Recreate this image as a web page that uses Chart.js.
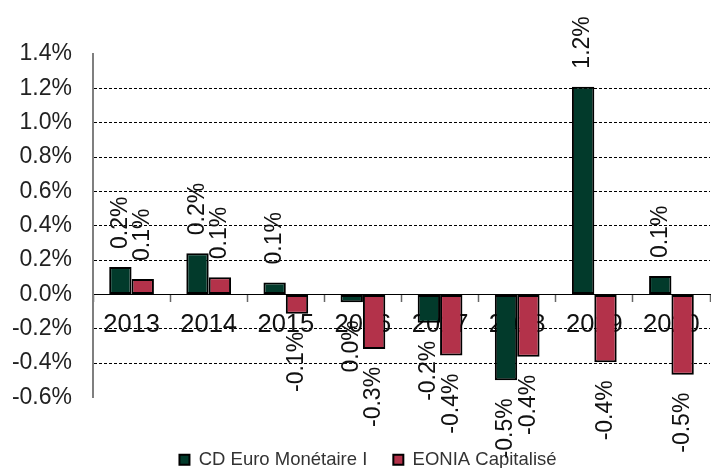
<!DOCTYPE html>
<html>
<head>
<meta charset="utf-8">
<script src="https://cdn.jsdelivr.net/npm/chart.js@4.4.1/dist/chart.umd.min.js"></script>
<style>
  html, body { margin: 0; padding: 0; background: #fff; }
  #wrap { position: relative; width: 711px; height: 468px; }
</style>
</head>
<body>
<div id="wrap"><canvas id="chart"></canvas></div>
<script>
const years = ['2013', '2014', '2015', '2016', '2017', '2018', '2019', '2020'];
const cdEuro = [0.16, 0.24, 0.07, -0.045, -0.165, -0.50, 1.21, 0.107];
const eonia = [0.09, 0.10, -0.113, -0.317, -0.356, -0.363, -0.395, -0.467];
const yTickValues = [-0.6, -0.4, -0.2, 0, 0.2, 0.4, 0.6, 0.8, 1.0, 1.2, 1.4];

const FONT = 'Arial, "Liberation Sans", sans-serif';

function fmtPct(v) {
  let s = v.toFixed(1);
  if (s === '-0.0') s = '0.0';
  return s + '%';
}

// etiquettes verticales au bout des barres
const barLabels = {
  id: 'barLabels',
  afterDatasetsDraw(chart) {
    const ctx = chart.ctx;
    ctx.save();
    ctx.font = '23px ' + FONT;
    ctx.fillStyle = '#111';
    ctx.textBaseline = 'middle';
    chart.data.datasets.forEach((ds, i) => {
      chart.getDatasetMeta(i).data.forEach((bar, j) => {
        const v = ds.data[j];
        ctx.save();
        ctx.translate(bar.x, v >= 0 ? bar.y - 18 : bar.y + 18);
        ctx.rotate(-Math.PI / 2);
        ctx.textAlign = v >= 0 ? 'left' : 'right';
        ctx.fillText(fmtPct(v), 0, 0);
        ctx.restore();
      });
    });
    ctx.restore();
  }
};

// décale la légende un peu à droite, comme dans l'original
const legendShift = {
  id: 'legendShift',
  afterLayout(chart) {
    if (!chart.legend) return;
    chart.legend.left += 13;
    chart.legend.right += 13;
  }
};

new Chart(document.getElementById('chart'), {
  type: 'bar',
  data: {
    labels: years,
    datasets: [
      { label: 'CD Euro Monétaire I', data: cdEuro, backgroundColor: '#023A2B', borderColor: '#000', borderWidth: 2, borderSkipped: false },
      { label: 'EONIA Capitalisé', data: eonia, backgroundColor: '#B3324A', borderColor: '#000', borderWidth: 2, borderSkipped: false },
    ],
  },
  options: {
    responsive: true,
    maintainAspectRatio: false,
    animation: false,
    layout: { padding: { top: 54, left: 0, right: 1, bottom: -11 } },
    datasets: { bar: { barPercentage: 1, categoryPercentage: 0.58 } },
    plugins: {
      tooltip: { enabled: false },
      legend: {
        position: 'bottom',
        title: { display: true, text: ' ', font: { size: 1, lineHeight: 1 }, padding: { top: 26, bottom: 0 } },
        labels: {
          boxWidth: 10,
          boxHeight: 10,
          padding: 26,
          color: '#333',
          font: { family: FONT, size: 18.5 },
        },
      },
    },
    scales: {
      x: {
        position: { y: 0 },
        z: 1,
        offset: true,
        grid: { drawOnChartArea: false, drawTicks: true, tickLength: 7, tickWidth: 1.5, tickColor: '#666', color: '#666', offset: true },
        border: { color: '#000', width: 1 },
        ticks: { color: '#111', font: { family: FONT, size: 25.5 }, padding: 8, maxRotation: 0, autoSkip: false },
      },
      y: {
        min: -0.6,
        max: 1.4,
        afterFit: s => { s.width = 93; },
        afterBuildTicks: s => { s.ticks = yTickValues.map(v => ({ value: v })); },
        grid: {
          drawTicks: false,
          lineWidth: 1,
          color: c => {
            const v = c.tick ? c.tick.value : 0;
            return (Math.abs(v) < 1e-6 || v > 1.3 || v < -0.5) ? 'rgba(0,0,0,0)' : '#000';
          },
        },
        border: { color: '#7f7f7f', width: 2, dash: [3, 2] },
        ticks: { color: '#222', font: { family: FONT, size: 23 }, padding: 21, callback: v => v.toFixed(1) + '%' },
      },
    },
  },
  plugins: [barLabels, legendShift],
});
</script>
</body>
</html>
